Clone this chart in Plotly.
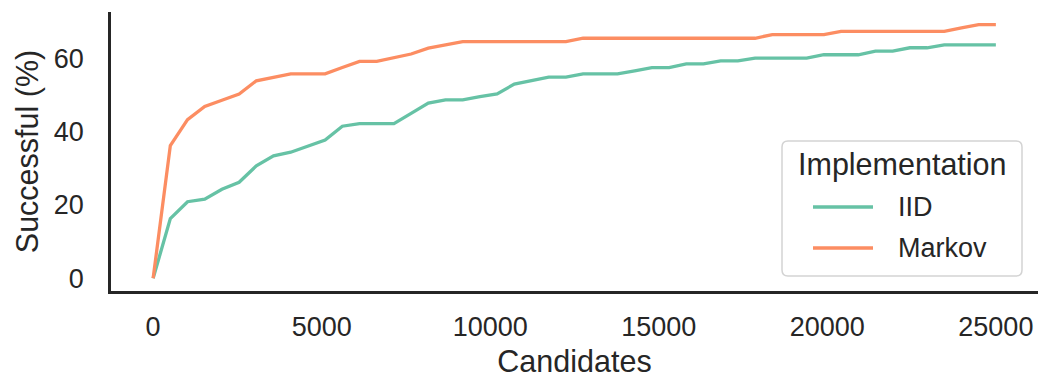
import numpy as np
import plotly.graph_objects as go

# Candidate budget checkpoints (50 evenly spaced points up to 25000)
candidates = np.linspace(0, 25000, 50)

iid = [0.0, 16.3, 20.9, 21.6, 24.3, 26.2, 30.7, 33.4, 34.4, 36.0,
       37.7, 41.5, 42.2, 42.2, 42.2, 45.0, 47.8, 48.7, 48.7, 49.6,
       50.3, 53.0, 53.9, 54.9, 54.9, 55.8, 55.8, 55.8, 56.6, 57.5,
       57.5, 58.5, 58.5, 59.3, 59.3, 60.1, 60.1, 60.1, 60.1, 61.0,
       61.0, 61.0, 62.0, 62.0, 62.9, 62.9, 63.7, 63.7, 63.7, 63.7]

markov = [0.0, 36.2, 43.3, 46.9, 48.6, 50.3, 53.9, 54.9, 55.8, 55.8,
          55.8, 57.5, 59.2, 59.2, 60.2, 61.2, 62.8, 63.8, 64.6, 64.6,
          64.6, 64.6, 64.6, 64.6, 64.6, 65.5, 65.5, 65.5, 65.5, 65.5,
          65.5, 65.5, 65.5, 65.5, 65.5, 65.5, 66.5, 66.5, 66.5, 66.5,
          67.4, 67.4, 67.4, 67.4, 67.4, 67.4, 67.4, 68.3, 69.2, 69.2]

series_names = ["IID", "Markov"]
series_colors = ["#66c2a5", "#fc8d62"]
x_ticks = [0, 5000, 10000, 15000, 20000, 25000]
y_ticks = [0, 20, 40, 60]

W, H = 1038, 378
ML, MR, MT, MB = 111, 0, 12, 87
FONT = "Liberation Sans, Arial, sans-serif"
INK = "#262626"
TICK_SIZE, LABEL_SIZE = 27, 30.5

fig = go.Figure()
for name, ys, col in zip(series_names, [iid, markov], series_colors):
    fig.add_trace(go.Scatter(x=candidates, y=ys, mode="lines", name=name,
                             line=dict(color=col, width=3.3),
                             showlegend=False))

# 5% padding around the data, like matplotlib's default margins
xmin, xmax = 0, 25000
ymin, ymax = 0, max(max(iid), max(markov))
xpad, ypad = 0.05 * (xmax - xmin), 0.05 * (ymax - ymin)

fig.update_layout(
    width=W, height=H,
    margin=dict(l=ML, r=MR, t=MT, b=MB),
    paper_bgcolor="white", plot_bgcolor="white",
    font=dict(family=FONT, color=INK, size=TICK_SIZE),
    xaxis=dict(range=[xmin - xpad, xmax + xpad], tickvals=x_ticks,
               tickformat="d", showgrid=False, zeroline=False,
               showline=True, linecolor=INK, linewidth=2.5,
               ticks="outside", ticklen=10, tickcolor="rgba(0,0,0,0)",
               tickfont=dict(size=TICK_SIZE, color=INK),
               title=dict(text="Candidates", font=dict(size=LABEL_SIZE, color=INK),
                          standoff=15)),
    yaxis=dict(range=[ymin - ypad, ymax + ypad], tickvals=y_ticks,
               showgrid=False, zeroline=False,
               showline=True, linecolor=INK, linewidth=2.5,
               ticks="outside", ticklen=19, tickcolor="rgba(0,0,0,0)",
               tickfont=dict(size=TICK_SIZE, color=INK),
               title=dict(text="Successful (%)", font=dict(size=LABEL_SIZE, color=INK),
                          standoff=7)),
)

# Legend drawn by hand: rounded frame, title, line samples and labels
pw, ph = W - ML - MR, H - MT - MB


def px(x):
    return (x - ML) / pw


def py(y):
    return (H - MB - y) / ph


bx0, bx1, by0, by1, r = 782, 1022, 141, 276, 6
path = (f"M {px(bx0 + r)} {py(by0)} L {px(bx1 - r)} {py(by0)} "
        f"Q {px(bx1)} {py(by0)} {px(bx1)} {py(by0 + r)} "
        f"L {px(bx1)} {py(by1 - r)} "
        f"Q {px(bx1)} {py(by1)} {px(bx1 - r)} {py(by1)} "
        f"L {px(bx0 + r)} {py(by1)} "
        f"Q {px(bx0)} {py(by1)} {px(bx0)} {py(by1 - r)} "
        f"L {px(bx0)} {py(by0 + r)} "
        f"Q {px(bx0)} {py(by0)} {px(bx0 + r)} {py(by0)} Z")
fig.add_shape(type="path", path=path, xref="paper", yref="paper",
              fillcolor="rgba(255,255,255,0.8)",
              line=dict(color="#d3d3d3", width=1.5), layer="above")

fig.add_annotation(x=px((bx0 + bx1) / 2), y=py(164), xref="paper", yref="paper",
                   text="Implementation", showarrow=False,
                   font=dict(size=LABEL_SIZE, color=INK), xanchor="center", yanchor="middle")
for i, (name, col) in enumerate(zip(series_names, series_colors)):
    yrow = 207 + i * 41
    fig.add_shape(type="line", xref="paper", yref="paper",
                  x0=px(813), x1=px(873), y0=py(yrow), y1=py(yrow),
                  line=dict(color=col, width=3.3), layer="above")
    fig.add_annotation(x=px(896), y=py(yrow), xref="paper", yref="paper",
                       text=name, showarrow=False,
                       font=dict(size=TICK_SIZE, color=INK), xanchor="left", yanchor="middle")

fig.write_html("out.html")
